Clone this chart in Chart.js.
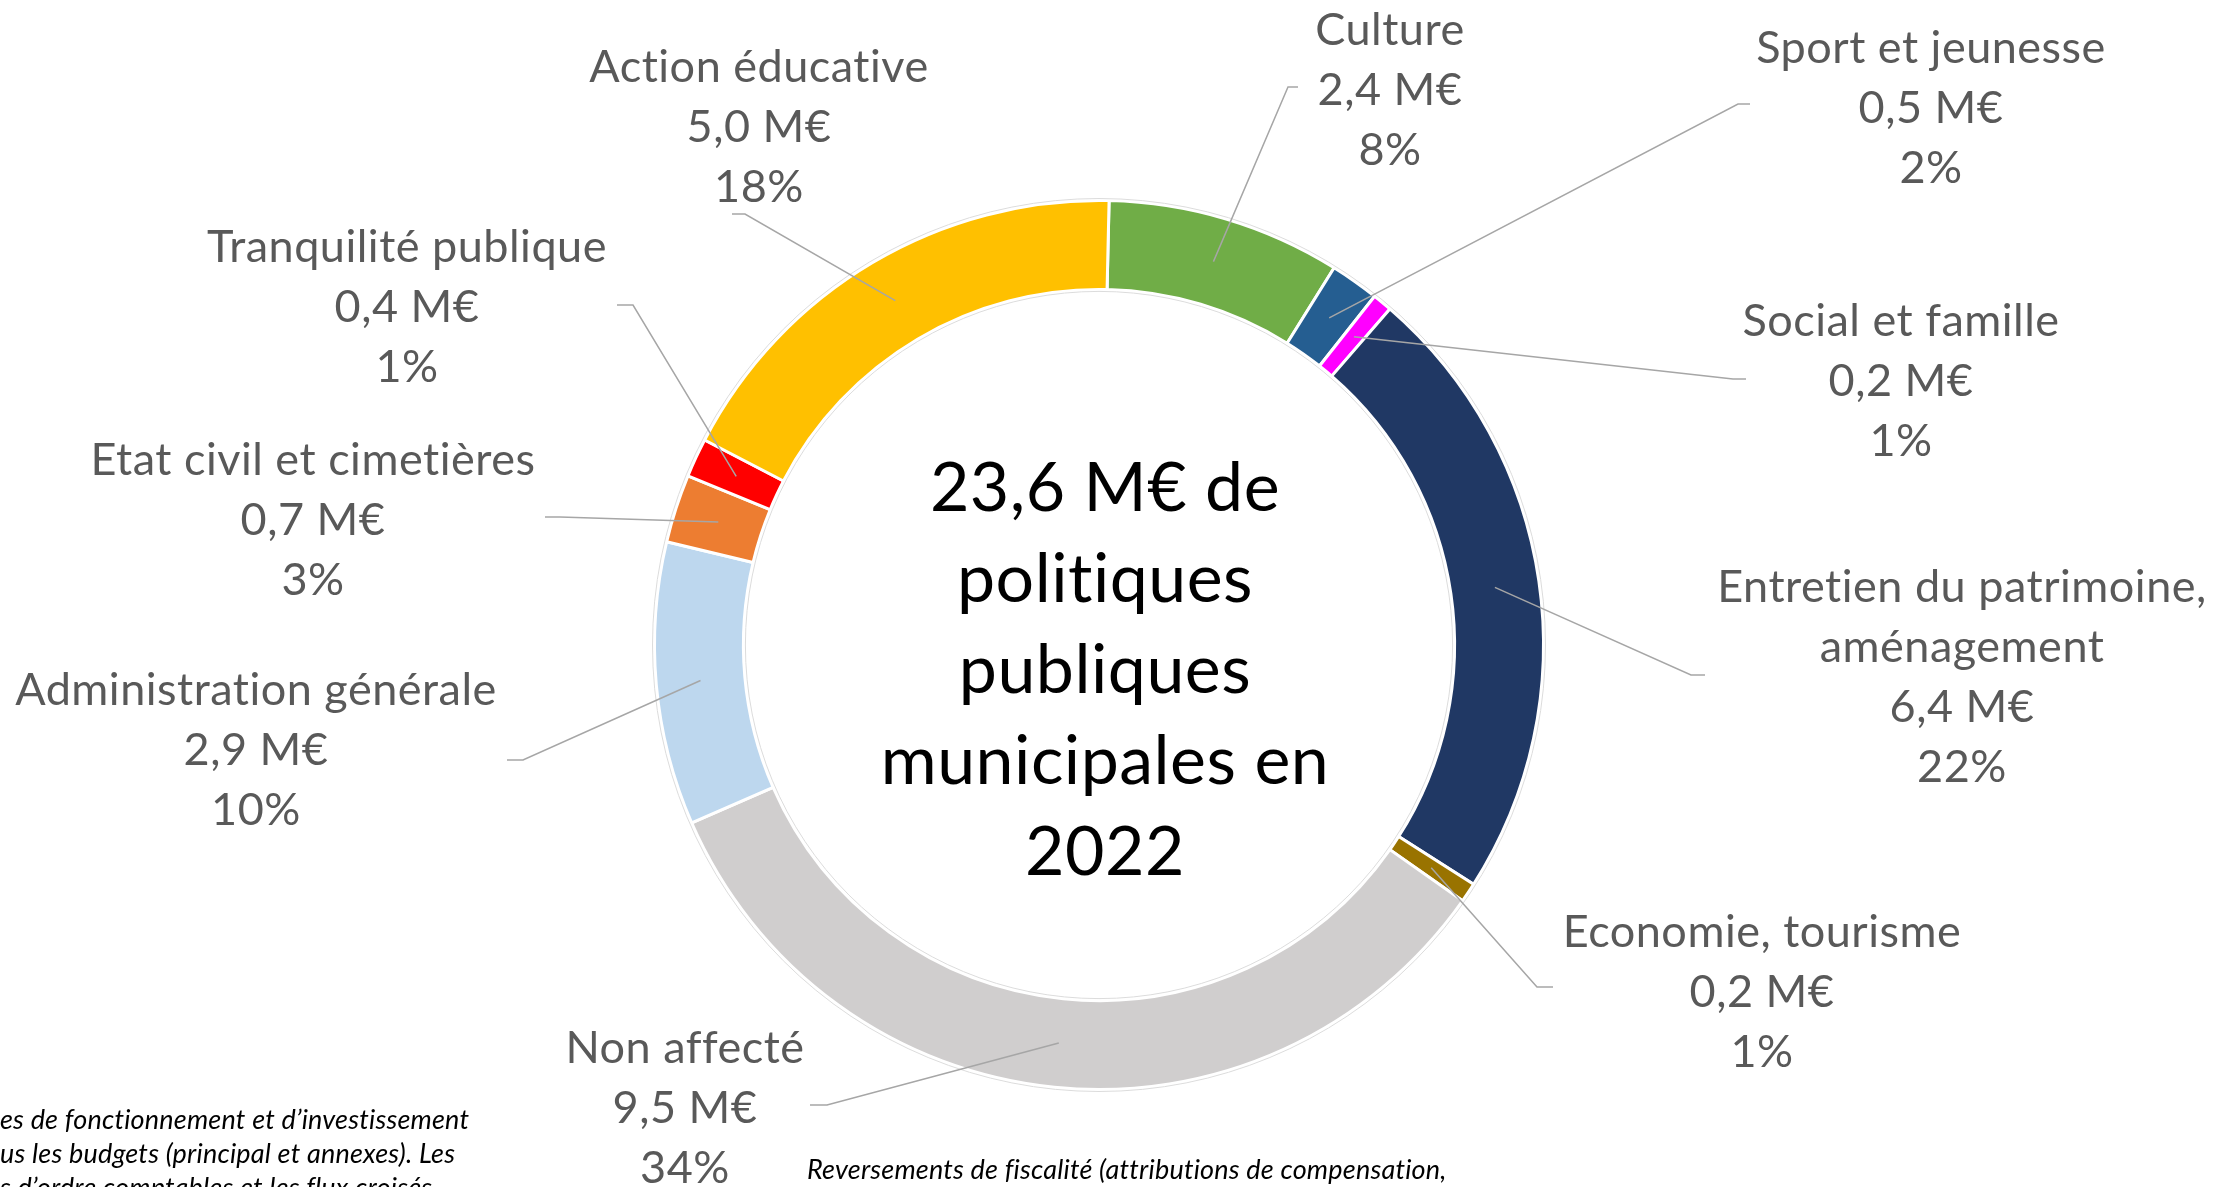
<!DOCTYPE html>
<html lang="fr">
<head>
<meta charset="utf-8">
<title>Politiques publiques municipales 2022</title>
<script src="https://cdn.jsdelivr.net/npm/chart.js@4.4.0/dist/chart.umd.min.js"></script>
<style>
  html, body { margin: 0; padding: 0; background: #fff; overflow: hidden; }
  #box { position: relative; width: 2233px; height: 1187px; }
</style>
</head>
<body>
<div id="box"><canvas id="chart" width="2233" height="1187"></canvas></div>
<script>
// Slices, clockwise from 12 o'clock
const categories = [
    "Culture",
    "Sport et jeunesse",
    "Social et famille",
    ["Entretien du patrimoine,", "aménagement"],
    "Economie, tourisme",
    "Non affecté",
    "Administration générale",
    "Etat civil et cimetières",
    "Tranquilité publique",
    "Action éducative"
];
const amounts = [2.4, 0.5, 0.2, 6.4, 0.2, 9.5, 2.9, 0.7, 0.4, 5.0];   // M€
const shares = [8, 2, 1, 22, 1, 34, 10, 3, 1, 18];                  // %
const sliceColors = ["#70ad47", "#255e91", "#ff00ff", "#203864", "#997300",
                     "#d0cece", "#bdd7ee", "#ed7d31", "#ff0000", "#ffc000"];

const centerLines = ["23,6 M€ de", "politiques", "publiques", "municipales en", "2022"];
const noteLeft = [
    "es de fonctionnement et d’investissement",
    "us les budgets (principal et annexes). Les",
    "s d’ordre comptables et les flux croisés"
];
const noteBottom = "Reversements de fiscalité (attributions de compensation,";

// Where each callout sits: text centre x, first baseline, leader elbow and end
const labelLayout = [
    { x: 1390, y: 45,   elbow: [1288, 87],   end: [1298, 87] },
    { x: 1931, y: 63,   elbow: [1738, 104],  end: [1750, 104] },
    { x: 1901, y: 336,  elbow: [1733, 379],  end: [1746, 379] },
    { x: 1962, y: 602,  elbow: [1691, 675],  end: [1705, 675] },
    { x: 1762, y: 947,  elbow: [1537, 987],  end: [1553, 987] },
    { x: 685,  y: 1063, elbow: [827, 1105],  end: [810, 1105] },
    { x: 256,  y: 705,  elbow: [523, 760],   end: [507, 760] },
    { x: 313,  y: 475,  elbow: [560, 517],   end: [545, 517] },
    { x: 407,  y: 262,  elbow: [633, 305],   end: [617, 305] },
    { x: 759,  y: 82,   elbow: [745, 214],   end: [732, 214] }
];

function formatAmount(v) {
    return v.toFixed(1).replace(".", ",") + " M€";
}

const calloutPlugin = {
    id: "callouts",
    afterDatasetsDraw(chart) {
        const ctx = chart.ctx;
        const arcs = chart.getDatasetMeta(0).data;
        ctx.save();

        // faint grey rim around the ring
        const ring = arcs[0].getProps(["x", "y", "innerRadius", "outerRadius"], true);
        ctx.strokeStyle = "#dcdcdc";
        ctx.lineWidth = 1;
        ctx.beginPath();
        ctx.arc(ring.x, ring.y, ring.outerRadius + 2, 0, 2 * Math.PI);
        ctx.stroke();
        ctx.beginPath();
        ctx.arc(ring.x, ring.y, ring.innerRadius - 2, 0, 2 * Math.PI);
        ctx.stroke();

        // no "ti" ligatures, like the original
        ctx.letterSpacing = "0.5px";

        // leader lines + labels
        arcs.forEach((arc, i) => {
            const p = arc.getProps(["x", "y", "startAngle", "endAngle", "innerRadius", "outerRadius"], true);
            const mid = (p.startAngle + p.endAngle) / 2;
            const r = (p.innerRadius + p.outerRadius) / 2;
            const lay = labelLayout[i];

            ctx.strokeStyle = "#a6a6a6";
            ctx.lineWidth = 1.5;
            ctx.beginPath();
            ctx.moveTo(p.x + Math.cos(mid) * r, p.y + Math.sin(mid) * r);
            ctx.lineTo(lay.elbow[0], lay.elbow[1]);
            ctx.lineTo(lay.end[0], lay.end[1]);
            ctx.stroke();

            const lines = [].concat(chart.data.labels[i], formatAmount(amounts[i]), shares[i] + "%");
            ctx.fillStyle = "#595959";
            ctx.font = "45px Lato";
            ctx.textAlign = "center";
            ctx.textBaseline = "alphabetic";
            lines.forEach((t, k) => ctx.fillText(t, lay.x, lay.y + k * 60));
        });

        // centre title
        ctx.fillStyle = "#000000";
        ctx.font = "68px Lato";
        ctx.textAlign = "center";
        centerLines.forEach((t, k) => ctx.fillText(t, 1105, 511 + k * 91));

        // cropped footnotes
        ctx.letterSpacing = "0.2px";
        ctx.font = "italic 27px Lato";
        ctx.textAlign = "left";
        noteLeft.forEach((t, k) => ctx.fillText(t, 0, 1129 + k * 34));
        ctx.fillText(noteBottom, 807, 1179);

        ctx.restore();
    }
};

new Chart(document.getElementById("chart"), {
    type: "doughnut",
    data: {
        labels: categories,
        datasets: [{
            data: amounts,
            backgroundColor: sliceColors,
            borderColor: "#ffffff",
            borderWidth: 3,
            hoverOffset: 0
        }]
    },
    options: {
        responsive: false,
        animation: false,
        rotation: 1.3,
        cutout: "80%",
        layout: { padding: { left: 653, right: 688, top: 199, bottom: 96 } },
        plugins: {
            legend: { display: false },
            tooltip: { enabled: false }
        }
    },
    plugins: [calloutPlugin]
});
</script>
</body>
</html>
